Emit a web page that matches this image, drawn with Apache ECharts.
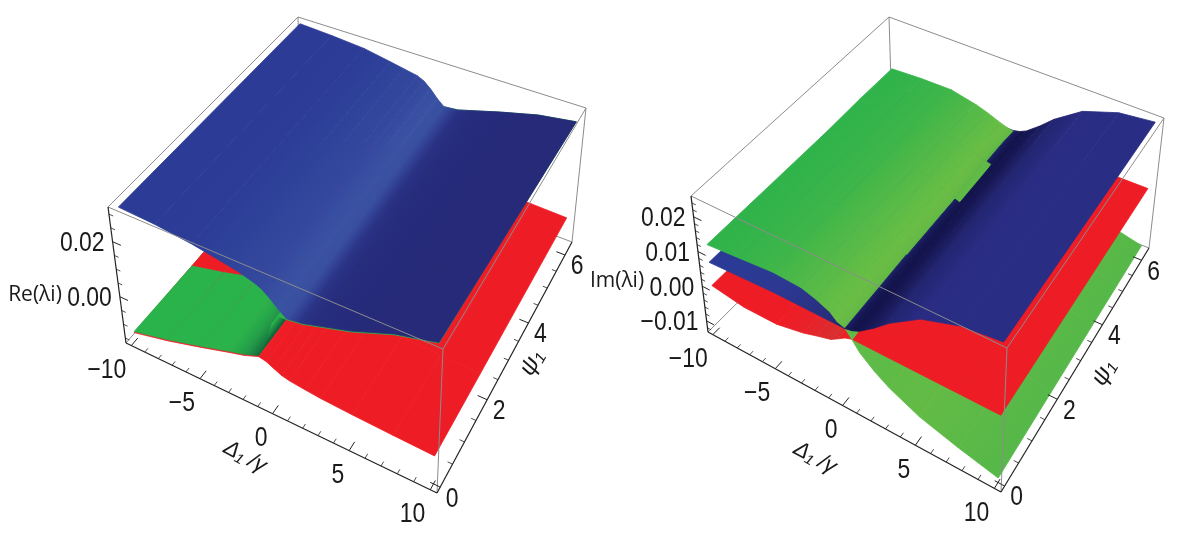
<!DOCTYPE html>
<html>
<head>
<meta charset="utf-8">
<style>html,body{margin:0;padding:0;background:#fff}#main{width:1193px;height:535px}</style>
<script src="https://cdn.jsdelivr.net/npm/echarts@6/dist/echarts.min.js"></script>
</head>
<body>
<div id="main"></div>
<script>
// detuning grid shared by all six surfaces
const deltas = [-10,-7.5,-5,-3,-2,-1,-0.5,0,0.5,1,2,3,5,7.5,10];

// left panel, Re(lambda_i)
const reBluePsi = [0,6.28];
const reBlue = [
  [.0318,.0311,.0296,.0277,.0267,.0252,.0240,.0218,.0193,.0172,.0180,.0196,.0228,.0282,.0318],
  [.0318,.0311,.0301,.0282,.0272,.0262,.0250,.0228,.0200,.0178,.0183,.0198,.0228,.0262,.0282]
];
const rePsi = [0,1.9,6.28];
const reGreen = [
  [-.0134,-.0105,-.0070,-.0040,-.0026,-.0006,.0039,.0128,.0168,.0169,.0177,.0193,.0225,.0279,.0316],
  [-.0138,-.0109,-.0074,-.0044,-.0030,-.0010,.0036,.0126,.0166,.0171,.0180,.0197,.0228,.0275,.0309],
  [-.0142,-.0113,-.0078,-.0048,-.0034,-.0014,.0030,.0125,.0165,.0178,.0183,.0198,.0228,.0262,.0282]
];
const reRed = [
  [-.0138,-.0109,-.0074,-.0044,-.0030,-.0010,-.0015,-.0028,-.0040,-.0046,-.0052,-.0057,-.0063,-.0068,-.0072],
  [-.0138,-.0109,-.0074,-.0044,-.0030,-.0010,-.0015,-.0028,-.0040,-.0046,-.0052,-.0057,-.0063,-.0068,-.0072],
  [-.0138,-.0109,-.0074,-.0044,-.0030,-.0010,-.0015,-.0028,-.0040,-.0046,-.0052,-.0057,-.0063,-.0068,-.0072]
];

// right panel, Im(lambda_i)
const imGreenPsi = [0,2,3.8,5,6.28];
const imGreen = [
  [.0115,.0123,.0131,.0127,.0115,.0098,.0080,.0074,.0050,.0025,-.0007,-.0032,-.0068,-.0096,-.0120],
  [.0115,.0123,.0131,.0125,.0115,.0098,.0085,.0078,.0074,.0040,-.0007,-.0032,-.0068,-.0096,-.0120],
  [.0115,.0123,.0127,.0117,.0105,.0088,.0080,.0075,.0068,.0045,-.0007,-.0032,-.0068,-.0096,-.0120],
  [.0119,.0123,.0127,.0113,.0105,.0095,.0090,.0085,.0080,.0060,-.0007,-.0032,-.0068,-.0096,-.0120],
  [.0119,.0123,.0123,.0107,.0095,.0080,.0074,.0070,.0056,.0040,-.0007,-.0032,-.0068,-.0096,-.0120]
];
const imOtherPsi = [0,6.28];
const imBlue = [
  [.0064,.0068,.0072,.0072,.0072,.0072,.0072,.0072,.0076,.0085,.0115,.0150,.0205,.0240,.0252],
  [.0064,.0068,.0072,.0072,.0072,.0072,.0072,.0072,.0076,.0085,.0115,.0150,.0205,.0240,.0252]
];
const imRed = [
  [-.0003,-.0018,-.0018,-.0003,.0009,.0020,.0032,.0045,.0052,.0052,.0052,.0052,.0052,.0052,.0052],
  [-.0003,-.0018,-.0018,-.0003,.0009,.0020,.0032,.0045,.0052,.0052,.0052,.0052,.0052,.0052,.0052]
];

// shade at each detuning node
const reBlueShade = ['#2b3b96','#2b3b96','#2c3c97','#2f429a','#31459c','#33479d','#35499e','#384fa1','#3a52a2','#394ea0','#2a3285','#272c7c','#262a7a','#262a78','#262a78'];
const reGreenShade = ['#2ab24b','#2ab24b','#2ab24b','#2ab24b','#239e49','#15703d','#0f5f38','#2ab24b','#2ab24b','#2ab24b','#2ab24b','#2ab24b','#2ab24b','#2ab24b','#2ab24b'];
const redShade = ['#ee1c25','#ee1c25','#ee1c25','#ee1c25','#ee1c25','#ee1f27','#ee1c25','#ee1c25','#ee1c25','#ee1c25','#ee1c25','#ee1c25','#ee1c25','#ee1c25','#ee1c25'];
const imBlueShade = ['#2b3a94','#2b3a94','#2c3892','#2a3488','#283080','#262e7c','#1f2670','#1b1f63','#13134e','#13134e','#1a1b5c','#222570','#292c82','#2a2d84','#2a2d84'];
const imGreenShade = ['#2fb34a','#35b44a','#40b649','#52b948','#5bbb47','#66be45','#6abd45','#62b946','#5ebb47','#5ebb47','#5ebb47','#60bb46','#63bb46','#5cb947','#55b848'];
const imRedShade = ['#ee1c25','#ee1c25','#ee1c25','#e8222a','#e0282c','#d92f2f','#e0282c','#ee1c25','#ee1c25','#ee1c25','#ee1c25','#ee1c25','#ee1c25','#ee1c25','#ee1c25'];

// axis ticks
const deltaTicks = [-10,-5,0,5,10];
const deltaMinor = [-9,-8,-7,-6,-4,-3,-2,-1,1,2,3,4,6,7,8,9];
const psiTicks = [0,2,4,6];
const psiMinor = [0.5,1,1.5,2.5,3,3.5,4.5,5,5.5];
const reTicks = [0,0.02];
const reMinor = [-0.015,-0.01,-0.005,0.005,0.01,0.015,0.025,0.03];
const imTicks = [-0.01,0,0.01,0.02];
const imMinor = [-0.012,-0.008,-0.006,-0.004,-0.002,0.002,0.004,0.006,0.008,0.012,0.014,0.016,0.018,0.022,0.024];

const TICK_FONT = '27px "Liberation Sans"';
const GREY = '#8c8c8c', DARK = '#222';

// box limits + where the 8 box corners land on the page (camera calibration)
const panels = [
  {
    zMin: -0.0168, zMax: 0.0326,
    top: [[108,207],[443,349],[586,108],[298,17]],
    bottom: [[126,343],[437,493],[572,242],[301,140]],
    zTicks: reTicks, zMinor: reMinor, zDec: 2,
    zTitle: {text: 'Re(λi)', x: 35, y: 295},
    dTitle: {x: 245, y: 457}, pTitle: {x: 532, y: 363},
    surfaces: [
      {psi: rePsi, z: reRed, shade: redShade},
      {psi: rePsi, z: reGreen, shade: reGreenShade},
      {psi: reBluePsi, z: reBlue, shade: reBlueShade, onTop: true}
    ]
  },
  {
    zMin: -0.0132, zMax: 0.026,
    top: [[691,196],[1007,348],[1164,118],[889,17]],
    bottom: [[708,332],[1001,492],[1149,248],[893,148]],
    zTicks: imTicks, zMinor: imMinor, zDec: 2,
    zTitle: {text: 'Im(λi)', x: 617, y: 281},
    dTitle: {x: 815, y: 458}, pTitle: {x: 1104, y: 373},
    surfaces: [
      {psi: imOtherPsi, z: imRed, shade: imRedShade},
      {psi: imOtherPsi, z: imBlue, shade: imBlueShade},
      {psi: imGreenPsi, z: imGreen, shade: imGreenShade}
    ]
  }
];

const D0 = -10.4, D1 = 10.4, P0 = -0.126, P1 = 6.41;

function squareToQuad(q) {
  const [[x0,y0],[x1,y1],[x2,y2],[x3,y3]] = q;
  const dx1 = x1-x2, dx2 = x3-x2, sx = x0-x1+x2-x3;
  const dy1 = y1-y2, dy2 = y3-y2, sy = y0-y1+y2-y3;
  const den = dx1*dy2-dx2*dy1;
  const g = (sx*dy2-dx2*sy)/den, h = (dx1*sy-sx*dy1)/den;
  const a = x1-x0+g*x1, b = x3-x0+h*x3, d = y1-y0+g*y1, e = y3-y0+h*y3;
  return (u,v) => {
    const w = g*u+h*v+1;
    return [(a*u+b*v+x0)/w, (d*u+e*v+y0)/w];
  };
}

function makeProjector(p) {
  const topMap = squareToQuad(p.top), botMap = squareToQuad(p.bottom);
  return (delta, psi, z) => {
    const u = (delta-D0)/(D1-D0), v = (psi-P0)/(P1-P0), t = (z-p.zMin)/(p.zMax-p.zMin);
    const a = topMap(u,v), b = botMap(u,v);
    return [b[0]+(a[0]-b[0])*t, b[1]+(a[1]-b[1])*t];
  };
}

const backItems = [], surfaceItems = [], frontItems = [], textItems = [];

panels.forEach(p => {
  const proj = makeProjector(p);
  const line = (list, a, b, color, width) => list.push({kind:'line', pts:[a,b], color, width});
  const Z0 = p.zMin, Z1 = p.zMax;

  // back of the box
  line(backItems, proj(D0,P0,Z1), proj(D0,P1,Z1), GREY, 1);
  line(backItems, proj(D0,P1,Z1), proj(D1,P1,Z1), GREY, 1);
  line(backItems, proj(D0,P1,Z1), proj(D0,P1,Z0), GREY, 1);
  line(backItems, proj(D1,P1,Z1), proj(D1,P1,Z0), GREY, 1);
  line(backItems, proj(D0,P0,Z0), proj(D0,P1,Z0), GREY, 1);
  line(backItems, proj(D0,P1,Z0), proj(D1,P1,Z0), GREY, 1);

  // surfaces split into quads, painted low to high
  const quads = [];
  p.surfaces.forEach(s => {
    for (let r = 0; r < s.psi.length-1; r++) {
      for (let c = 0; c < deltas.length-1; c++) {
        const pa = proj(deltas[c], s.psi[r], s.z[r][c]);
        const pb = proj(deltas[c+1], s.psi[r], s.z[r][c+1]);
        const pc = proj(deltas[c+1], s.psi[r+1], s.z[r+1][c+1]);
        const pd = proj(deltas[c], s.psi[r+1], s.z[r+1][c]);
        const zm = (s.z[r][c]+s.z[r][c+1]+s.z[r+1][c+1]+s.z[r+1][c])/4;
        const key = (zm-Z0)/(Z1-Z0) + 0.05*(deltas[c]+deltas[c+1])/40 + (s.onTop ? 1 : 0);
        quads.push({kind:'quad', pts:[pa,pb,pc,pd], c0:s.shade[c], c1:s.shade[c+1], key});
      }
    }
  });
  quads.sort((a,b) => a.key-b.key).forEach(q => surfaceItems.push(q));

  // front of the box, over the surfaces
  line(frontItems, proj(D0,P0,Z1), proj(D1,P0,Z1), GREY, 1);
  line(frontItems, proj(D1,P0,Z1), proj(D1,P1,Z1), GREY, 1);
  line(frontItems, proj(D1,P0,Z1), proj(D1,P0,Z0), GREY, 1);

  // axes
  line(frontItems, proj(D0,P0,Z0), proj(D1,P0,Z0), DARK, 1.2);
  line(frontItems, proj(D1,P0,Z0), proj(D1,P1,Z0), DARK, 1.2);
  line(frontItems, proj(D0,P0,Z0), proj(D0,P0,Z1), DARK, 1.2);

  deltaTicks.forEach(d => {
    const at = proj(d,P0,Z0);
    line(frontItems, at, proj(d,P0+0.2,Z0), DARK, 1);
    textItems.push({text: String(d).replace('-','−'), x: at[0]-5, y: at[1]+25, font: TICK_FONT, align: 'right', scaleX: 0.85});
  });
  deltaMinor.forEach(d => line(frontItems, proj(d,P0,Z0), proj(d,P0+0.1,Z0), DARK, 0.8));
  psiTicks.forEach(v => {
    const at = proj(D1,v,Z0);
    line(frontItems, at, proj(D1-0.6,v,Z0), DARK, 1);
    textItems.push({text: String(v), x: at[0]+12, y: at[1]+12, font: TICK_FONT, scaleX: 0.85});
  });
  psiMinor.forEach(v => line(frontItems, proj(D1,v,Z0), proj(D1-0.3,v,Z0), DARK, 0.8));
  p.zTicks.forEach(z => {
    const at = proj(D0,P0,z);
    line(frontItems, at, proj(D0+0.6,P0,z), DARK, 1);
    textItems.push({text: z.toFixed(p.zDec).replace('-','−'), x: at[0]-8, y: at[1]+2, font: TICK_FONT, align: 'right', scaleX: 0.85});
  });
  p.zMinor.forEach(z => line(frontItems, proj(D0,P0,z), proj(D0+0.3,P0,z), DARK, 0.8));

  // titles
  textItems.push({text: p.zTitle.text, x: p.zTitle.x, y: p.zTitle.y, font: '21px "Open Sans"'});
  textItems.push({text: 'Δ₁ /γ', x: p.dTitle.x, y: p.dTitle.y, font: 'italic 22px "Liberation Sans"', rotation: -0.49});
  textItems.push({text: 'ψ₁', x: p.pTitle.x, y: p.pTitle.y, font: 'italic 24px "Liberation Sans"', rotation: 1.05});
});

function renderShape(params, api) {
  const item = this.items[params.dataIndex];
  if (item.kind === 'line') {
    const a = api.coord(item.pts[0]), b = api.coord(item.pts[1]);
    return {type:'line', shape:{x1:a[0],y1:a[1],x2:b[0],y2:b[1]}, style:{stroke:item.color, lineWidth:item.width}, silent:true};
  }
  const pts = item.pts.map(q => api.coord(q));
  // gradient runs across the psi edges, so shade follows detuning only
  const lm = [(pts[0][0]+pts[3][0])/2, (pts[0][1]+pts[3][1])/2];
  const rm = [(pts[1][0]+pts[2][0])/2, (pts[1][1]+pts[2][1])/2];
  const ex = pts[3][0]-pts[0][0], ey = pts[3][1]-pts[0][1], el = Math.hypot(ex,ey) || 1;
  const nx = -ey/el, ny = ex/el;
  const span = (rm[0]-lm[0])*nx+(rm[1]-lm[1])*ny;
  const grad = new echarts.graphic.LinearGradient(lm[0],lm[1],lm[0]+nx*span,lm[1]+ny*span,
    [{offset:0,color:item.c0},{offset:1,color:item.c1}], true);
  return {type:'polygon', shape:{points:pts}, style:{fill:grad, stroke:grad, lineWidth:0.8}, silent:true};
}

function shapeSeries(items) {
  const holder = {items};
  return {
    type: 'custom', coordinateSystem: 'cartesian2d', clip: false, silent: true, animation: false,
    data: items.map(it => [it.pts[0][0], it.pts[0][1]]),
    renderItem: renderShape.bind(holder)
  };
}

const chart = echarts.init(document.getElementById('main'));
chart.setOption({
  animation: false,
  backgroundColor: '#fff',
  grid: {left: 0, right: 0, top: 0, bottom: 0},
  // hidden page axes the projected points are plotted on
  xAxis: {type: 'value', min: 0, max: 1193, show: false},
  yAxis: {type: 'value', min: 0, max: 535, inverse: true, show: false},
  series: [
    shapeSeries(backItems),
    shapeSeries(surfaceItems),
    shapeSeries(frontItems),
    {
      type: 'custom', coordinateSystem: 'cartesian2d', clip: false, silent: true, animation: false,
      data: textItems.map(t => [t.x, t.y]),
      renderItem(params, api) {
        const t = textItems[params.dataIndex];
        const at = api.coord([t.x, t.y]);
        return {type:'text', x:at[0], y:at[1], rotation:t.rotation || 0, scaleX:t.scaleX || 1, silent:true,
          style:{text:t.text, font:t.font, fill:'#1a1a1a', align:t.align || 'center', verticalAlign:'middle'}};
      }
    }
  ]
});
</script>
</body>
</html>
